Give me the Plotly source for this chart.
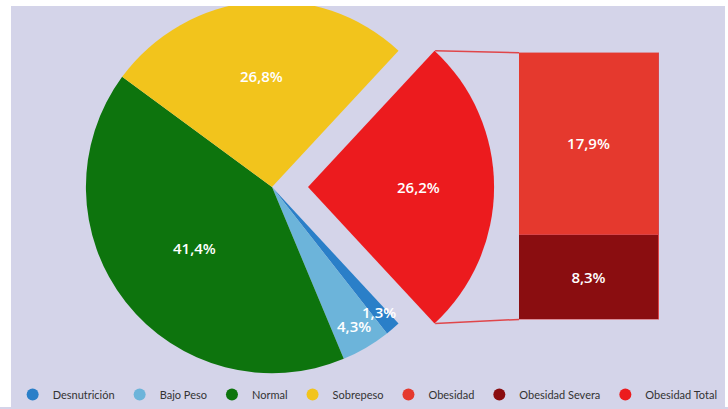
import math
import plotly.graph_objects as go

# ---------------- data ----------------
pie_labels = ["Obesidad Total", "Desnutrición", "Bajo Peso", "Normal", "Sobrepeso"]
pie_values = [26.2, 1.3, 4.3, 41.4, 26.8]
pie_colors = ["#ec1b1e", "#2a7fc8", "#6cb4da", "#0d740d", "#f2c41c"]

bar_labels = ["Obesidad Severa", "Obesidad"]
bar_values = [8.3, 17.9]
bar_colors = ["#8a0d10", "#e5392e"]

legend_labels = ["Desnutrición", "Bajo Peso", "Normal", "Sobrepeso",
                 "Obesidad", "Obesidad Severa", "Obesidad Total"]
legend_colors = ["#2a7fc8", "#6cb4da", "#0d740d", "#f2c41c",
                 "#e5392e", "#8a0d10", "#ec1b1e"]

# ---------------- layout geometry (pixels) ----------------
W, H = 728, 409
CX, CY, R = 272, 188, 187      # main pie centre / radius
PULL_PX = 36                   # offset of the exploded slice
BAR_X0, BAR_X1, BAR_TOP, BAR_BOT = 519, 659, 53, 321
label_radius = [0.59, 0.88, 0.865, 0.53, 0.60]
BG = "#d4d4e9"
FONT = "Open Sans"


def px_x(x):
    return x / W


def px_y(y):
    return (H - y) / H


total = sum(pie_values)
rotation = 90 - pie_values[0] / total * 360 / 2


def pie_domain(cx):
    return dict(x=[px_x(cx - R), px_x(cx + R)], y=[px_y(CY + R), px_y(CY - R)])


def fmt(v):
    return f"{v:.1f}%".replace(".", ",")


fig = go.Figure()

# main pie (exploded slice hidden)
main_colors = ["rgba(0,0,0,0)"] + pie_colors[1:]
fig.add_trace(go.Pie(
    labels=pie_labels, values=pie_values, sort=False, direction="clockwise",
    rotation=rotation, marker=dict(colors=main_colors, line=dict(width=0)),
    textinfo="none", hoverinfo="skip", showlegend=False,
    domain=pie_domain(CX),
))
# exploded slice
ex_colors = [pie_colors[0]] + ["rgba(0,0,0,0)"] * (len(pie_values) - 1)
fig.add_trace(go.Pie(
    labels=pie_labels, values=pie_values, sort=False, direction="clockwise",
    rotation=rotation, marker=dict(colors=ex_colors, line=dict(width=0)),
    textinfo="none", hoverinfo="skip", showlegend=False,
    domain=pie_domain(CX + PULL_PX),
))

# pie labels as annotations at slice mid-angles
annotations = []
acc = 0.0
for i, v in enumerate(pie_values):
    a0 = rotation + acc / total * 360
    a1 = rotation + (acc + v) / total * 360
    acc += v
    mid = math.radians((a0 + a1) / 2)
    cx = CX + (PULL_PX if i == 0 else 0)
    rr = R * label_radius[i]
    x = cx + rr * math.sin(mid)
    y = CY - rr * math.cos(mid)
    annotations.append(dict(
        x=px_x(x), y=px_y(y), xref="paper", yref="paper", text=fmt(v),
        showarrow=False, font=dict(family=FONT, size=15, color="white", weight=600),
        xanchor="center", yanchor="middle"))

# stacked bar
for lab, v, c in zip(bar_labels, bar_values, bar_colors):
    fig.add_trace(go.Bar(
        x=[0], y=[v], name=lab, marker=dict(color=c, line=dict(color="#d94448", width=1)),
        width=1, text=[fmt(v)], textposition="inside", insidetextanchor="middle",
        textfont=dict(family=FONT, size=15, color="white", weight=600),
        hoverinfo="skip", showlegend=False, xaxis="x2", yaxis="y2",
    ))

# legend entries
for lab, c in zip(legend_labels, legend_colors):
    fig.add_trace(go.Scatter(
        x=[None], y=[None], mode="markers", name=lab,
        marker=dict(color=c, size=12, symbol="circle"),
        xaxis="x2", yaxis="y2"))

# connector lines from exploded slice corners to bar corners
a_start = math.radians(rotation)
a_end = math.radians(rotation + pie_values[0] / total * 360)
ex_cx = CX + PULL_PX
corner_top = (ex_cx + R * math.sin(a_start), CY - R * math.cos(a_start))
corner_bot = (ex_cx + R * math.sin(a_end), CY - R * math.cos(a_end))
shapes = []
for (sx, sy), by in [(corner_top, BAR_TOP), (corner_bot, BAR_BOT)]:
    shapes.append(dict(type="line", xref="paper", yref="paper",
                       x0=px_x(sx), y0=px_y(sy), x1=px_x(BAR_X0), y1=px_y(by),
                       line=dict(color="#e0464a", width=1.5)))
# white screenshot border
for x0, y0, x1, y1 in [(0, 0, 11, H), (0, 0, W, 6), (W - 3, 0, W, H)]:
    shapes.append(dict(type="rect", xref="paper", yref="paper", layer="above",
                       x0=px_x(x0), x1=px_x(x1), y0=px_y(y1), y1=px_y(y0),
                       fillcolor="white", line=dict(width=0)))

fig.update_layout(
    width=W, height=H, margin=dict(l=0, r=0, t=0, b=0),
    paper_bgcolor=BG, plot_bgcolor="rgba(0,0,0,0)",
    barmode="stack", bargap=0,
    xaxis2=dict(domain=[px_x(BAR_X0), px_x(BAR_X1)], range=[-0.5, 0.5],
                visible=False, fixedrange=True, anchor="y2"),
    yaxis2=dict(domain=[px_y(BAR_BOT), px_y(BAR_TOP)], range=[0, sum(bar_values)],
                visible=False, fixedrange=True, anchor="x2"),
    showlegend=True,
    legend=dict(orientation="h", x=0.505, xanchor="center", y=0.03, yanchor="middle",
                traceorder="normal",
                font=dict(family="Lato", size=11, color="#333333"),
                bgcolor="rgba(0,0,0,0)", itemclick=False, itemdoubleclick=False),
    annotations=annotations, shapes=shapes,
)

fig.write_html("out.html", config={"displayModeBar": False},
               post_script="document.body.style.margin='0';")
